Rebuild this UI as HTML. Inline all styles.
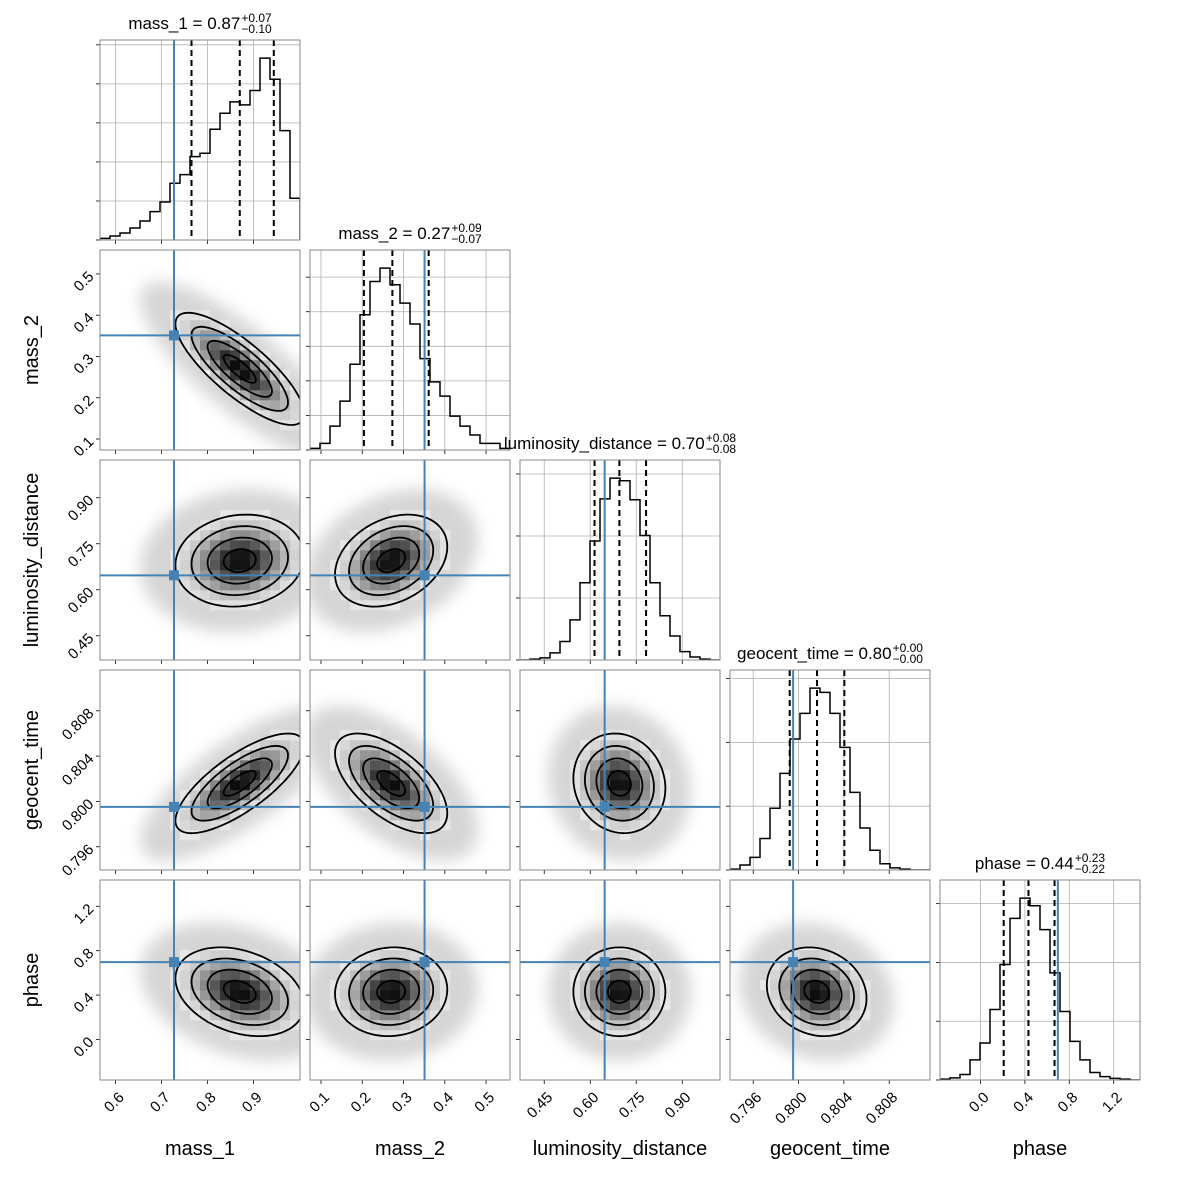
<!DOCTYPE html>
<html><head><meta charset="utf-8">
<style>
body{margin:0;background:#fff;}
#wrap{position:relative;width:1180px;height:1180px;font-family:"Liberation Sans","DejaVu Sans",sans-serif;}
.title{position:absolute;transform:translateX(-50%);font-size:17px;white-space:nowrap;display:flex;align-items:center;color:#000;}
.scr{display:inline-flex;flex-direction:column;font-size:12px;line-height:11px;margin-left:1px;}
</style></head>
<body>
<div id="wrap">
<svg id="chart" width="1180" height="1180" xmlns="http://www.w3.org/2000/svg">
<defs><filter id="blur" x="-50%" y="-50%" width="200%" height="200%"><feGaussianBlur stdDeviation="8"/></filter></defs>
</svg>
</div>
<script>
const params = ['mass_1','mass_2','luminosity_distance','geocent_time','phase'];
const rangeMin = [0.566,0.0734,0.371,0.79395,-0.365];
const rangeMax = [1.001,0.558,1.023,0.8116,1.437];
const truths = [0.727,0.351,0.647,0.79952,0.697];
const q16 = [0.765,0.204,0.614,0.79922,0.209];
const q50 = [0.87,0.273,0.695,0.80163,0.432];
const q84 = [0.944,0.361,0.782,0.80404,0.667];
const titleMed = ['0.87','0.27','0.70','0.80','0.44'];
const titlePlus = ['+0.07','+0.09','+0.08','+0.00','+0.23'];
const titleMinus = ['\u22120.10','\u22120.07','\u22120.08','\u22120.00','\u22120.22'];
const hist_mass_1 = [5,12,21,36,57,85,114,170,196,250,260,332,380,414,405,448,545,482,328,125];
const hist_mass_2 = [5,20,72,147,258,407,507,547,497,442,379,275,205,162,102,72,45,20,20,5];
const hist_lum = [0,2,5,17,44,95,183,282,382,431,425,380,295,183,105,57,20,7,2,0];
const hist_geo = [2,12,30,75,147,230,312,373,433,423,373,292,185,100,47,15,5,2,0,0];
const hist_phase = [2,5,13,48,88,168,275,385,433,415,358,255,163,92,48,18,8,4,2,0];
const hists = [hist_mass_1,hist_mass_2,hist_lum,hist_geo,hist_phase];
const histTickStep = [117,104,147,152,140];
const ticks_mass_1 = [0.6,0.7,0.8,0.9];
const ticks_mass_2 = [0.1,0.2,0.3,0.4,0.5];
const ticks_lum = [0.45,0.60,0.75,0.90];
const ticks_geo = [0.796,0.800,0.804,0.808];
const ticks_phase = [0.0,0.4,0.8,1.2];
const tickVals = [ticks_mass_1,ticks_mass_2,ticks_lum,ticks_geo,ticks_phase];
const tickLabels = [['0.6','0.7','0.8','0.9'],['0.1','0.2','0.3','0.4','0.5'],['0.45','0.60','0.75','0.90'],['0.796','0.800','0.804','0.808'],['0.0','0.4','0.8','1.2']];
const centers = [0.87,0.27,0.695,0.8016,0.43];
const sds = [0.07,0.068,0.075,0.0022,0.2];
const corr = [
 [1,-0.8,0.1,0.75,-0.3],
 [-0.8,1,0.3,-0.6,0.05],
 [0.1,0.3,1,-0.1,0.0],
 [0.75,-0.6,-0.1,1,-0.15],
 [-0.3,0.05,0.0,-0.15,1]];
const contourLevels = [0.5,1,1.5,2];

const svg = document.getElementById('chart');
const wrap = document.getElementById('wrap');
const NS='http://www.w3.org/2000/svg';
const P=200, GAP=10, X0=100, Y0=40;
function mk(tag,attrs,parent){const e=document.createElementNS(NS,tag);for(const k in attrs)e.setAttribute(k,attrs[k]);(parent||svg).appendChild(e);return e;}
function px(i,col,v){return X0+col*(P+GAP)+(v-rangeMin[i])/(rangeMax[i]-rangeMin[i])*P;}
function py(i,row,v){return Y0+row*(P+GAP)+P-(v-rangeMin[i])/(rangeMax[i]-rangeMin[i])*P;}
const blue='#4682b4';

for(let r=0;r<5;r++){
 for(let c=0;c<=r;c++){
  const x0=X0+c*(P+GAP), y0=Y0+r*(P+GAP);
  const g=mk('g',{});
  
  
  const clipId='clip'+r+c;
  const cp=mk('clipPath',{id:clipId},g); mk('rect',{x:x0,y:y0,width:P,height:P},cp);
  const inner=mk('g',{'clip-path':'url(#'+clipId+')'},g);
  if(r===c){
   const i=r, h=hists[i], mx=Math.max(...h)*1.1;
   tickVals[i].forEach(v=>{const x=px(i,c,v);mk('line',{x1:x,x2:x,y1:y0,y2:y0+P,stroke:'#b0b0b0','stroke-width':0.8},inner);});
   for(let t=0;t<=mx;t+=histTickStep[i]){const y=y0+P-t/mx*P;mk('line',{x1:x0,x2:x0+P,y1:y,y2:y,stroke:'#b0b0b0','stroke-width':0.8},inner);mk('line',{x1:x0-4,x2:x0,y1:y,y2:y,stroke:'#000','stroke-width':0.8},g);}
   let d='';const bw=(rangeMax[i]-rangeMin[i])/h.length;
   h.forEach((v,k)=>{const xa=px(i,c,rangeMin[i]+k*bw),xb=px(i,c,rangeMin[i]+(k+1)*bw),y=y0+P-v/mx*P;d+=(k===0?'M'+xa+','+(y0+P)+'L':'L')+xa+','+y+'L'+xb+','+y;});
   d+='L'+(x0+P)+','+(y0+P);
   const hp=mk('path',{d:d,fill:'none',stroke:'#000','stroke-width':1.5},inner);
   
   
   [q16[i],q50[i],q84[i]].forEach((q,k)=>{const x=px(i,c,q);const l=mk('line',{x1:x,x2:x,y1:y0,y2:y0+P,stroke:'#000','stroke-width':2,'stroke-dasharray':'6,4'},inner);
    
    });
   const tx=px(i,c,truths[i]);
   const tl=mk('line',{x1:tx,x2:tx,y1:y0,y2:y0+P,stroke:blue,'stroke-width':2},inner);
   
   
  } else {
   const ix=c, iy=r, rho=corr[ix][iy];
   const cx=px(ix,c,centers[ix]), cy=py(iy,r,centers[iy]);
   const sx=sds[ix]/(rangeMax[ix]-rangeMin[ix])*P, sy=sds[iy]/(rangeMax[iy]-rangeMin[iy])*P;
   function ell(rad){let d='';for(let k=0;k<=72;k++){const t=k/72*2*Math.PI;const x=cx+rad*sx*Math.cos(t);const y=cy-rad*sy*(rho*Math.cos(t)+Math.sqrt(1-rho*rho)*Math.sin(t));d+=(k?'L':'M')+x.toFixed(1)+','+y.toFixed(1);}return d+'Z';}
   const haze=mk('path',{d:ell(3.1),fill:'#c8c8c8',opacity:0.75,filter:'url(#blur)'},inner);
   
   
   mk('path',{d:ell(2),fill:'#f4f4f4'},inner);
   for(let a=0;a<20;a++)for(let b=0;b<20;b++){
    const vx=rangeMin[ix]+(a+0.5)/20*(rangeMax[ix]-rangeMin[ix]);
    const vy=rangeMin[iy]+(b+0.5)/20*(rangeMax[iy]-rangeMin[iy]);
    const zx=(vx-centers[ix])/sds[ix], zy=(vy-centers[iy])/sds[iy];
    const r2=(zx*zx-2*rho*zx*zy+zy*zy)/(1-rho*rho);
    if(r2>4.4)continue;
    const dens=Math.exp(-r2/2);
    const gv=Math.round(245-235*Math.pow(dens,1.3));
    mk('rect',{x:x0+a*10,y:y0+P-(b+1)*10,width:10.3,height:10.3,fill:'rgb('+gv+','+gv+','+gv+')'},inner);
   }
   contourLevels.forEach(lv=>{const e=mk('path',{d:ell(lv),fill:'none',stroke:'#000','stroke-width':1.8},inner);
    
    });
   const tx=px(ix,c,truths[ix]), ty=py(iy,r,truths[iy]);
   mk('line',{x1:tx,x2:tx,y1:y0,y2:y0+P,stroke:blue,'stroke-width':2},inner);
   mk('line',{x1:x0,x2:x0+P,y1:ty,y2:ty,stroke:blue,'stroke-width':2},inner);
   const m=mk('rect',{x:tx-5,y:ty-5,width:10,height:10,fill:blue},inner);
   
   
   tickVals[iy].forEach((v,k)=>{const y=py(iy,r,v);mk('line',{x1:x0-4,x2:x0,y1:y,y2:y,stroke:'#000','stroke-width':0.8},g);
    if(c===0){const t=mk('text',{x:x0-9,y:y+5,'text-anchor':'end','font-size':15,transform:'rotate(-45 '+(x0-9)+' '+(y)+')'},g);t.textContent=tickLabels[iy][k];
     
     }});
  }
  tickVals[c].forEach((v,k)=>{const x=px(c,c,v);mk('line',{x1:x,x2:x,y1:y0+P,y2:y0+P+4,stroke:'#000','stroke-width':0.8},g);
   if(r===4){const t=mk('text',{x:x+5,y:y0+P+20,'text-anchor':'end','font-size':15,transform:'rotate(-45 '+(x+5)+' '+(y0+P+14)+')'},g);t.textContent=tickLabels[c][k];
    
    }});
  mk('rect',{x:x0,y:y0,width:P,height:P,fill:'none',stroke:'#888','stroke-width':1},g);
 }
}
params.forEach((p,i)=>{
 const t=mk('text',{x:X0+i*(P+GAP)+P/2,y:1155,'text-anchor':'middle','font-size':20});t.textContent=p;
 
 
 if(i>0){const yc=Y0+i*(P+GAP)+P/2;const l=mk('text',{x:38,y:yc,'text-anchor':'middle','font-size':20,transform:'rotate(-90 38 '+yc+')'});l.textContent=p;
  
  }
 const d=document.createElement('div');d.className='title';
 
 
 d.style.left=(X0+i*(P+GAP)+P/2)+'px';d.style.top=(Y0+i*(P+GAP)-27)+'px';
 d.innerHTML='<span>'+p+' = '+titleMed[i]+'</span><span class="scr"><span>'+titlePlus[i]+'</span><span>'+titleMinus[i]+'</span></span>';
 wrap.appendChild(d);
});
</script>
</body></html>
